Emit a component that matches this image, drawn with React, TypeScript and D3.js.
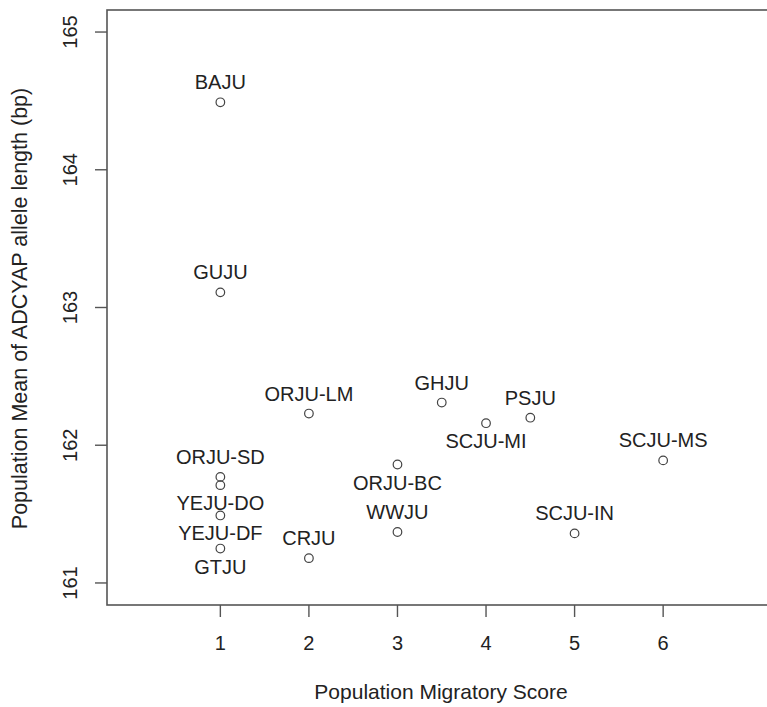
import React from "react";
import * as d3 from "d3";

const labels = ["BAJU", "GUJU", "ORJU-LM", "ORJU-SD", "YEJU-DO", "YEJU-DF", "GTJU", "CRJU", "GHJU", "SCJU-MI", "PSJU", "ORJU-BC", "WWJU", "SCJU-IN", "SCJU-MS"];
const scores = [1, 1, 2, 1, 1, 1, 1, 2, 3.5, 4, 4.5, 3, 3, 5, 6];
const means = [164.49, 163.11, 162.23, 161.77, 161.71, 161.49, 161.25, 161.18, 162.31, 162.16, 162.2, 161.86, 161.37, 161.36, 161.89];
const labelPos = ["above", "above", "above", "above", "below", "below", "below", "above", "above", "below", "above", "below", "above", "above", "above"];
const xTicks = [1, 2, 3, 4, 5, 6];
const yTicks = [161, 162, 163, 164, 165];

const W = 767;
const H = 707;
const FONT = "'Liberation Sans', Arial, Helvetica, sans-serif";

export default function App() {
  const x = d3.scaleLinear().domain([-0.28, 7.28]).range([107, 776.5]);
  const y = d3.scaleLinear().domain([160.84, 165.16]).range([605, 10]);
  const [x0, x1] = x.range();
  const [yb, yt] = y.range();

  return (
    <svg width={W} height={H} style={{ position: "absolute", left: 0, top: 0, background: "#fff" }} fontFamily={FONT}>
      <rect x={0} y={0} width={W} height={H} fill="#fff" />
      <rect x={x0} y={yt} width={x1 - x0} height={yb - yt} fill="none" stroke="#555" strokeWidth={1.6} />
      {yTicks.map((t) => (
        <g key={"y" + t}>
          <line x1={x0} x2={x0 - 12} y1={y(t)} y2={y(t)} stroke="#555" strokeWidth={1.4} />
          <text
            x={0}
            y={0}
            transform={`translate(${x0 - 30},${y(t)}) rotate(-90)`}
            textAnchor="middle"
            fontSize={20}
            fill="#222"
          >
            {t}
          </text>
        </g>
      ))}
      {xTicks.map((t) => (
        <g key={"x" + t}>
          <line x1={x(t)} x2={x(t)} y1={yb} y2={yb + 12} stroke="#555" strokeWidth={1.4} />
          <text x={x(t)} y={yb + 45} textAnchor="middle" fontSize={20} fill="#222">
            {t}
          </text>
        </g>
      ))}
      <text x={441} y={699} textAnchor="middle" fontSize={21} fill="#222">
        Population Migratory Score
      </text>
      <text
        transform={`translate(27,${(yt + yb) / 2 + 1}) rotate(-90)`}
        textAnchor="middle"
        fontSize={21.5}
        fill="#222"
      >
        Population Mean of ADCYAP allele length (bp)
      </text>
      {labels.map((lab, i) => {
        const cx = x(scores[i]);
        const cy = y(means[i]);
        return (
          <g key={lab}>
            <circle cx={cx} cy={cy} r={4.3} fill="none" stroke="#444" strokeWidth={1.2} />
            <text
              x={cx}
              y={labelPos[i] === "above" ? cy - 13 : cy + 25}
              textAnchor="middle"
              fontSize={20}
              fill="#222"
            >
              {lab}
            </text>
          </g>
        );
      })}
    </svg>
  );
}
